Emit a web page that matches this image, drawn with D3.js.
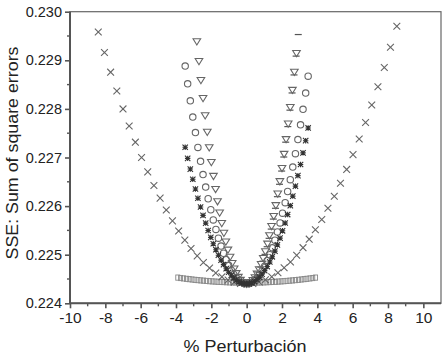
<!DOCTYPE html>
<html>
<head>
<meta charset="utf-8">
<script src="https://cdn.jsdelivr.net/npm/d3@7"></script>
<style>
  html, body { margin: 0; padding: 0; background: #fff; }
  svg { display: block; font-family: "Liberation Sans", Arial, Helvetica, sans-serif; }
</style>
</head>
<body>
<svg id="chart" width="446" height="357"></svg>
<script>
// ---------- data ----------
const xTicks = [-10, -8, -6, -4, -2, 0, 2, 4, 6, 8, 10];
const yTicks = [0.224, 0.225, 0.226, 0.227, 0.228, 0.229, 0.230];
const xLabel = "% Perturbación";
const yLabel = "SSE: Sum of square errors";

// series "×"
const crossX = [-8.4,-8.05,-7.7,-7.35,-7.0,-6.65,-6.3,-5.95,-5.6,-5.25,-4.9,-4.55,-4.2,-3.85,-3.5,-3.15,-2.8,-2.45,-2.1,-1.75,-1.4,-1.05,-0.7,-0.35,0,
  0.35,0.71,1.06,1.42,1.77,2.12,2.48,2.83,3.19,3.54,3.89,4.25,4.6,4.96,5.31,5.66,6.02,6.37,6.73,7.08,7.43,7.79,8.14,8.5];
const crossY = [0.229584,0.229161,0.228756,0.228369,0.228,0.227649,0.227316,0.227001,0.226704,0.226425,0.226164,0.225921,0.225696,0.225489,0.2253,0.225129,0.224976,0.224841,0.224724,0.224625,0.224544,0.224481,0.224436,0.224409,0.2244,
  0.224409,0.224437,0.224483,0.224547,0.22463,0.224731,0.224851,0.224989,0.225145,0.22532,0.225513,0.225725,0.225955,0.226203,0.22647,0.226755,0.227059,0.227381,0.227721,0.22808,0.228457,0.228853,0.229267,0.2297];

// series "□"
const squareX = [-3.9,-3.74,-3.58,-3.41,-3.25,-3.09,-2.93,-2.76,-2.6,-2.44,-2.28,-2.11,-1.95,-1.79,-1.63,-1.46,-1.3,-1.14,-0.98,-0.81,-0.65,-0.49,-0.33,-0.16,0,
  0.16,0.33,0.49,0.65,0.81,0.98,1.14,1.3,1.46,1.63,1.79,1.95,2.11,2.28,2.44,2.6,2.76,2.93,3.09,3.25,3.41,3.58,3.74,3.9];
const squareY = [0.224529,0.22452,0.224512,0.224504,0.224497,0.22449,0.224483,0.224477,0.224471,0.224466,0.22446,0.224455,0.224451,0.224447,0.224443,0.22444,0.224437,0.224434,0.224431,0.22443,0.224428,0.224427,0.224426,0.224425,0.224425,
  0.224425,0.224426,0.224427,0.224428,0.22443,0.224431,0.224434,0.224437,0.22444,0.224443,0.224447,0.224451,0.224455,0.22446,0.224466,0.224471,0.224477,0.224483,0.22449,0.224497,0.224504,0.224512,0.22452,0.224529];

// series "○"
const circleX = [-3.48,-3.34,-3.19,-3.05,-2.9,-2.76,-2.61,-2.47,-2.32,-2.18,-2.03,-1.89,-1.74,-1.6,-1.45,-1.31,-1.16,-1.02,-0.87,-0.73,-0.58,-0.44,-0.29,-0.15,0,
  0.15,0.29,0.44,0.58,0.73,0.87,1.02,1.16,1.31,1.45,1.6,1.74,1.89,2.03,2.18,2.32,2.47,2.61,2.76,2.9,3.05,3.19,3.34,3.48];
const circleY = [0.228881,0.228516,0.228166,0.227831,0.227512,0.227208,0.226921,0.226648,0.226392,0.226151,0.225925,0.225715,0.22552,0.225341,0.225178,0.22503,0.224898,0.224781,0.22468,0.224595,0.224524,0.22447,0.224431,0.224408,0.2244,
  0.224407,0.22443,0.224467,0.224519,0.224586,0.224667,0.224764,0.224875,0.225001,0.225142,0.225298,0.225468,0.225654,0.225854,0.22607,0.2263,0.226544,0.226804,0.227079,0.227368,0.227672,0.227991,0.228325,0.228674];

// series "▽"
const triX = [-2.82,-2.7,-2.59,-2.47,-2.35,-2.23,-2.12,-2.0,-1.88,-1.76,-1.65,-1.53,-1.41,-1.29,-1.18,-1.06,-0.94,-0.82,-0.71,-0.59,-0.47,-0.35,-0.24,-0.12,0,
  0.12,0.24,0.35,0.47,0.59,0.71,0.82,0.94,1.06,1.18,1.29,1.41,1.53,1.65,1.76,1.88,2.0,2.12,2.23,2.35,2.47,2.59,2.7,2.82];
const triY = [0.229388,0.228981,0.228591,0.228219,0.227864,0.227526,0.227206,0.226903,0.226617,0.226349,0.226097,0.225864,0.225647,0.225448,0.225266,0.225101,0.224954,0.224824,0.224712,0.224617,0.224539,0.224478,0.224435,0.224409,0.2244,
  0.224408,0.224433,0.224474,0.224532,0.224606,0.224697,0.224804,0.224927,0.225067,0.225224,0.225397,0.225587,0.225793,0.226015,0.226254,0.226509,0.226781,0.22707,0.227375,0.227696,0.228034,0.228388,0.228759,0.229146];

// series "✱"
const starX = [-3.48,-3.34,-3.19,-3.05,-2.9,-2.76,-2.61,-2.47,-2.32,-2.18,-2.03,-1.89,-1.74,-1.6,-1.45,-1.31,-1.16,-1.02,-0.87,-0.73,-0.58,-0.44,-0.29,-0.15,0,
  0.15,0.29,0.44,0.58,0.73,0.87,1.02,1.16,1.31,1.45,1.6,1.74,1.89,2.03,2.18,2.32,2.47,2.61,2.76,2.9,3.05,3.19,3.34,3.48];
const starY = [0.227211,0.226982,0.226762,0.226552,0.226352,0.226162,0.225981,0.22581,0.225649,0.225498,0.225356,0.225225,0.225103,0.22499,0.224888,0.224795,0.224712,0.224639,0.224576,0.224522,0.224478,0.224444,0.22442,0.224405,0.2244,
  0.224406,0.224422,0.22445,0.224489,0.224539,0.224601,0.224673,0.224756,0.224851,0.224957,0.225074,0.225202,0.225341,0.225492,0.225653,0.225826,0.22601,0.226205,0.226411,0.226628,0.226856,0.227096,0.227346,0.227608];

// series "–" (visible on the right side only)
const dashX = [0.1,0.22,0.33,0.45,0.57,0.69,0.8,0.92,1.04,1.16,1.27,1.39,1.51,1.63,1.74,1.86,1.98,2.1,2.21,2.33,2.45,2.57,2.68,2.8,2.92];
const dashY = [0.224348,0.224373,0.224414,0.224472,0.224546,0.224637,0.224744,0.224867,0.225007,0.225164,0.225337,0.225527,0.225733,0.225955,0.226194,0.226449,0.226721,0.22701,0.227315,0.227636,0.227974,0.228328,0.228699,0.229086,0.22953];

// ---------- chart ----------
const svg = d3.select("#chart");
const X0 = 70, X1 = 441, Y0 = 303.3, Y1 = 11.7;
const x = d3.scaleLinear().domain([-10, 11]).range([X0, X1]);
const y = d3.scaleLinear().domain([0.224, 0.230]).range([Y0, Y1]);

const zip = (xs, ys) => xs.map((v, i) => [v, ys[i]]);

// frame (top/right thin)
svg.append("rect")
  .attr("x", X0).attr("y", Y1)
  .attr("width", X1 - X0).attr("height", Y0 - Y1)
  .attr("fill", "none").attr("stroke", "#666").attr("stroke-width", 1.2);

const ink = "#666";
const plot = svg.append("g");

// squares
plot.append("g").selectAll("rect").data(zip(squareX, squareY)).join("rect")
  .attr("x", d => x(d[0]) - 2).attr("y", d => y(d[1]) - 2.6)
  .attr("width", 4).attr("height", 5.2)
  .attr("fill", "none").attr("stroke", "#888").attr("stroke-width", 0.9);

// crosses
const cs = 3.4;
plot.append("g").selectAll("path").data(zip(crossX, crossY)).join("path")
  .attr("d", d => {
    const cx = x(d[0]), cy = y(d[1]);
    return `M${cx - cs},${cy - cs}L${cx + cs},${cy + cs}M${cx - cs},${cy + cs}L${cx + cs},${cy - cs}`;
  })
  .attr("stroke", ink).attr("stroke-width", 1.1).attr("fill", "none");

// dashes
plot.append("g").selectAll("path").data(zip(dashX, dashY)).join("path")
  .attr("d", d => `M${x(d[0]) - 3.5},${y(d[1])}H${x(d[0]) + 3.5}`)
  .attr("stroke", "#555").attr("stroke-width", 1.2);

// triangles (down)
plot.append("g").selectAll("path").data(zip(triX, triY)).join("path")
  .attr("d", d => {
    const cx = x(d[0]), cy = y(d[1]);
    return `M${cx - 3.8},${cy - 2.7}L${cx + 3.8},${cy - 2.7}L${cx},${cy + 3.5}Z`;
  })
  .attr("stroke", ink).attr("stroke-width", 1.1).attr("fill", "none");

// circles
plot.append("g").selectAll("circle").data(zip(circleX, circleY)).join("circle")
  .attr("cx", d => x(d[0])).attr("cy", d => y(d[1])).attr("r", 3.2)
  .attr("stroke", ink).attr("stroke-width", 1.1).attr("fill", "none");

// asterisks
const ss = 2.7;
plot.append("g").selectAll("path").data(zip(starX, starY)).join("path")
  .attr("d", d => {
    const cx = x(d[0]), cy = y(d[1]);
    return `M${cx - ss},${cy - ss}L${cx + ss},${cy + ss}M${cx - ss},${cy + ss}L${cx + ss},${cy - ss}` +
           `M${cx - ss},${cy}H${cx + ss}M${cx},${cy - ss}V${cy + ss}`;
  })
  .attr("stroke", "#333").attr("stroke-width", 1.1).attr("fill", "none");

// ---------- axes ----------
const axisColor = "#555";
const xMinor = d3.range(-9, 11, 2);
const yMinor = [0.2245, 0.2255, 0.2265, 0.2275, 0.2285, 0.2295];

const gx = svg.append("g").attr("transform", `translate(0,${Y0})`)
  .call(d3.axisBottom(x).tickValues(xTicks).tickSize(5).tickPadding(4).tickFormat(d3.format("d")));
gx.select(".domain").attr("stroke", axisColor).attr("stroke-width", 2)
  .attr("d", `M${X0},0H${X1}`);
gx.selectAll(".tick line").attr("stroke", axisColor).attr("stroke-width", 1.6);
gx.selectAll(".tick text").attr("font-size", 15.5).attr("fill", "#222")
  .attr("font-family", "Liberation Sans, Arial, sans-serif")
  .text(d => String(d).replace("\u2212", "-"));
svg.append("g").selectAll("line").data(xMinor).join("line")
  .attr("x1", d => x(d)).attr("x2", d => x(d))
  .attr("y1", Y0).attr("y2", Y0 + 3)
  .attr("stroke", axisColor).attr("stroke-width", 1.4);

const gy = svg.append("g").attr("transform", `translate(${X0},0)`)
  .call(d3.axisLeft(y).tickValues(yTicks).tickSize(5).tickPadding(3).tickFormat(d3.format(".3f")));
gy.select(".domain").attr("stroke", axisColor).attr("stroke-width", 2)
  .attr("d", `M0,${Y0}V${Y1}`);
gy.selectAll(".tick line").attr("stroke", axisColor).attr("stroke-width", 1.6);
gy.selectAll(".tick text").attr("font-size", 14.5).attr("fill", "#222")
  .attr("font-family", "Liberation Sans, Arial, sans-serif");
svg.append("g").selectAll("line").data(yMinor).join("line")
  .attr("x1", X0 - 3).attr("x2", X0)
  .attr("y1", d => y(d)).attr("y2", d => y(d))
  .attr("stroke", axisColor).attr("stroke-width", 1.4);

// axis titles
svg.append("text")
  .attr("x", 245).attr("y", 351.5)
  .attr("text-anchor", "middle")
  .attr("font-size", 16.5).attr("fill", "#222")
  .attr("textLength", 123).attr("lengthAdjust", "spacingAndGlyphs")
  .text(xLabel);

svg.append("text")
  .attr("transform", `translate(18.3,153) rotate(-90)`)
  .attr("text-anchor", "middle")
  .attr("font-size", 16.5).attr("fill", "#222")
  .attr("textLength", 213).attr("lengthAdjust", "spacingAndGlyphs")
  .text(yLabel);
</script>
</body>
</html>
